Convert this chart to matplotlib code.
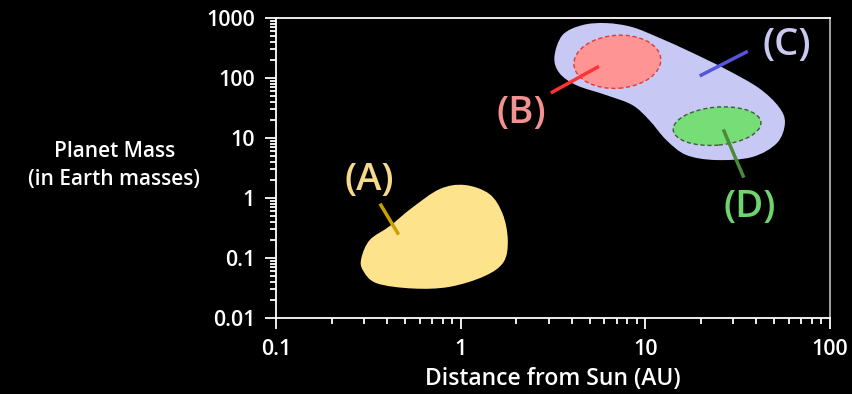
import numpy as np
import matplotlib.pyplot as plt
from matplotlib.path import Path
from matplotlib.patches import PathPatch, Ellipse
from matplotlib.transforms import ScaledTranslation

plt.rcParams['font.family'] = 'Open Sans'
plt.rcParams['font.weight'] = 'semibold'
plt.rcParams['axes.labelweight'] = 'semibold'

# region outlines: distance (AU), mass (Earth masses)
a_dist = [0.29, 0.322, 0.413, 0.543, 0.77, 1.05, 1.43, 1.69, 1.80, 1.71, 1.35, 0.87, 0.55, 0.35, 0.295]
a_mass = [0.10, 0.20, 0.34, 0.68, 1.41, 1.65, 1.17, 0.54, 0.20, 0.086, 0.05, 0.033, 0.031, 0.038, 0.063]

c_dist = [3.22, 3.56, 4.56, 6.15, 8.51, 11.9, 17.3, 27.4, 41.3, 53.0, 57.1, 51.7, 37.9,
          24.2, 16.7, 13.0, 10.5, 8.51, 6.15, 4.24, 3.43]
c_mass = [224, 521, 764, 826, 708, 470, 280, 140, 68, 32.9, 17.8, 8.26, 4.82,
          4.30, 5.21, 9.27, 20, 35.5, 52, 76, 121]

# ellipses (B) and (D): centre distance, centre mass
b_center = (7.06, 187)
d_center = (24.5, 15.8)

# leader lines
a_line = ([0.37, 0.456], [0.76, 0.26])
b_line = ([3.14, 5.51], [58.4, 152])
c_line = ([20.1, 35.2], [112, 271])
d_line = ([26.7, 33.9], [13.1, 2.33])

labels = ['(A)', '(B)', '(C)', '(D)']
label_dist = [0.318, 2.14, 58.6, 37.0]
label_mass = [2.0, 26.1, 355, 0.71]
label_colors = ['#f6d98a', '#f39090', '#c9c9f2', '#6fd46f']

xticks = [0.1, 1, 10, 100]
xticklabels = ['0.1', '1', '10', '100']
yticks = [0.01, 0.1, 1, 10, 100, 1000]
yticklabels = ['0.01', '0.1', '1', '10', '100', '1000']


def smooth_patch(xs, ys, **kw):
    p = np.log10(np.column_stack([xs, ys]))
    n = len(p)
    verts = [p[0]]
    codes = [Path.MOVETO]
    for i in range(n):
        p0, p1, p2, p3 = p[i - 1], p[i], p[(i + 1) % n], p[(i + 2) % n]
        verts += [p1 + (p2 - p0) / 6, p2 - (p3 - p1) / 6, p2]
        codes += [Path.CURVE4] * 3
    verts = 10 ** np.array(verts)
    return PathPatch(Path(verts, codes), **kw)


fig = plt.figure(figsize=(8.52, 3.94), dpi=100)
fig.patch.set_facecolor('black')
ax = fig.add_axes([0.324, 0.193, 0.650, 0.761])
ax.set_facecolor('black')
ax.set_xscale('log')
ax.set_yscale('log')
ax.set_xlim(0.1, 100)
ax.set_ylim(0.01, 1000)

ax.add_patch(smooth_patch(a_dist, a_mass, facecolor='#fde48c', edgecolor='none', zorder=2))
ax.add_patch(smooth_patch(c_dist, c_mass, facecolor='#c8c8f5', edgecolor='none', zorder=2))

b_ell = Ellipse((0, 0), 0.87, 0.53, angle=4,
                transform=fig.dpi_scale_trans + ScaledTranslation(*b_center, ax.transData),
                facecolor='#ff9494', edgecolor='#e03a3a', linestyle=(0, (3, 2)),
                linewidth=1.0, zorder=3)
d_ell = Ellipse((0, 0), 0.88, 0.38, angle=5,
                transform=fig.dpi_scale_trans + ScaledTranslation(*d_center, ax.transData),
                facecolor='#77dd77', edgecolor='#3c5c3c', linestyle=(0, (3, 2)),
                linewidth=1.0, zorder=3)
ax.add_patch(b_ell)
ax.add_patch(d_ell)

ax.plot(*a_line, color='#c9a000', lw=2.5, zorder=4)
ax.plot(*b_line, color='#ff3333', lw=2.5, zorder=4)
ax.plot(*c_line, color='#5555e0', lw=2.5, zorder=4)
ax.plot(*d_line, color='#4a8a3a', lw=2.5, zorder=4)

for t, x, y, c in zip(labels, label_dist, label_mass, label_colors):
    ax.text(x, y, t, color=c, fontsize=27.5, ha='center', va='center', zorder=5)

ax.set_xticks(xticks)
ax.set_xticklabels(xticklabels)
ax.set_yticks(yticks)
ax.set_yticklabels(yticklabels)
ax.tick_params(which='both', colors='white', direction='out', labelsize=15.5, width=1.3)
ax.tick_params(which='major', length=8, pad=7)
ax.tick_params(which='minor', length=4.5)
ax.tick_params(axis='y', which='minor', length=4)
for s in ['left', 'bottom', 'top']:
    ax.spines[s].set_color('white')
    ax.spines[s].set_linewidth(1.3)
ax.spines['right'].set_color('#b0b0b0')
ax.spines['right'].set_linewidth(1.3)

ax.set_xlabel('Distance from Sun (AU)', color='white', fontsize=16.5, labelpad=5)
fig.text(0.134, 0.58, 'Planet Mass\n(in Earth masses)', color='white', fontsize=15,
         ha='center', va='center', linespacing=1.45)

plt.savefig('out.png', dpi=100, facecolor='black')
plt.close()
